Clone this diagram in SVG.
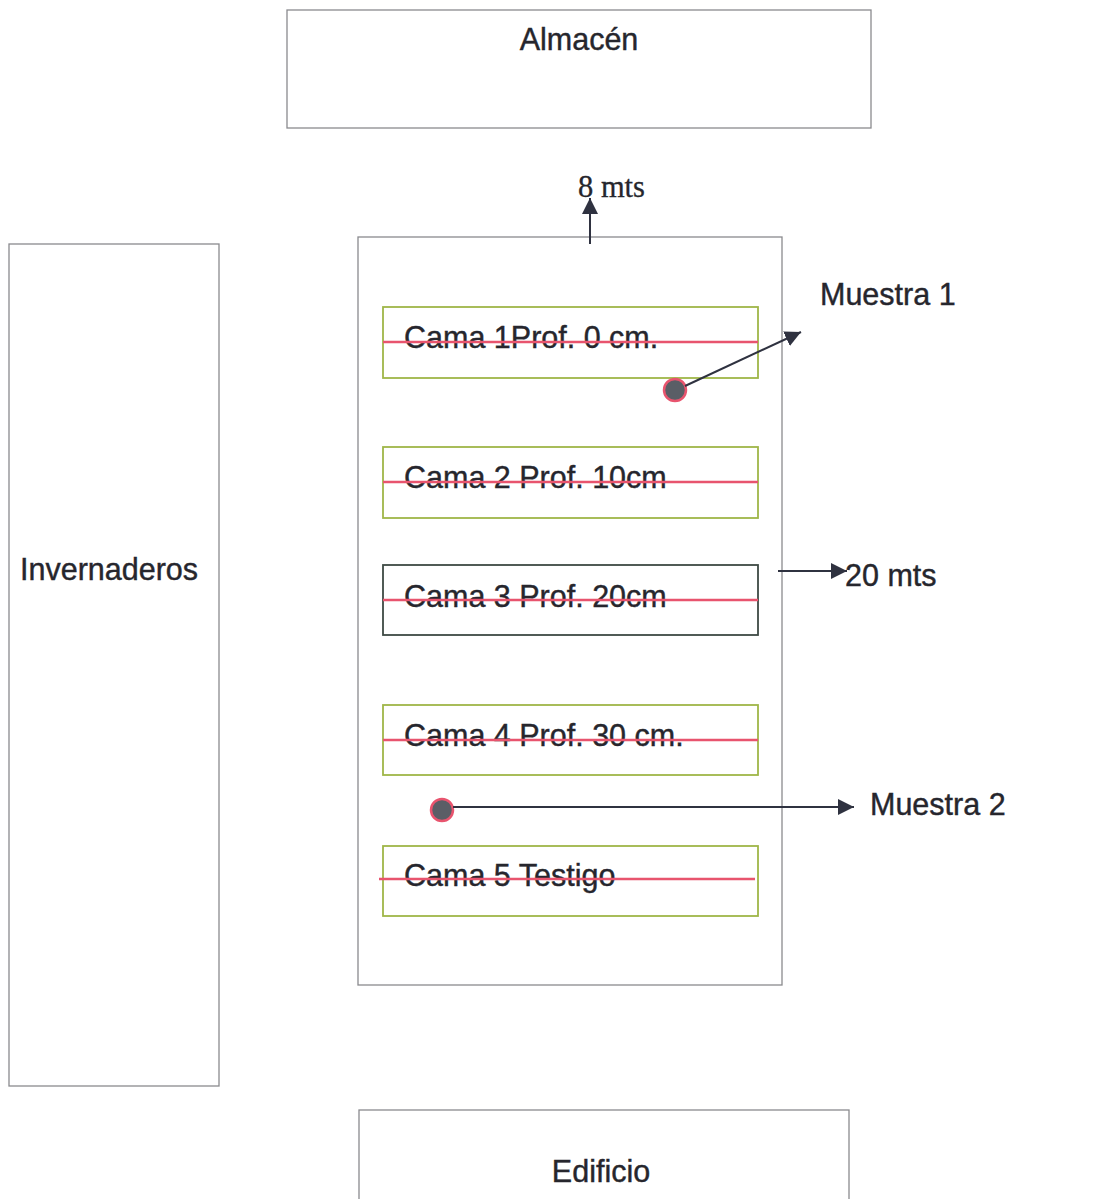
<svg xmlns="http://www.w3.org/2000/svg" width="1118" height="1199" viewBox="0 0 1118 1199">
  <style>
    .box { fill: #ffffff; stroke: #8a8a8e; stroke-width: 1.3; }
    .cama { fill: none; stroke: #9fb648; stroke-width: 1.8; }
    .cama3 { fill: none; stroke: #3e4a44; stroke-width: 1.8; }
    .strike { stroke: #e8546e; stroke-width: 2.4; }
    .lbl { font-family: "Liberation Sans", Arial, sans-serif; font-size: 30.5px; fill: #26262d; stroke: #26262d; stroke-width: 0.4; }
    .serif { font-family: "Liberation Serif", "Times New Roman", serif; font-size: 30.5px; fill: #26262d; stroke: #26262d; stroke-width: 0.3; }
    .conn { stroke: #2f3240; stroke-width: 2; fill: none; }
    .dot { fill: #5a5e66; stroke: #e8546e; stroke-width: 2.5; }
  </style>
  <defs>
    <marker id="ah" markerUnits="userSpaceOnUse" markerWidth="18" markerHeight="16" refX="16" refY="8" orient="auto">
      <path d="M0,0 L16,8 L0,16 Z" fill="#2f3240"/>
    </marker>
  </defs>
  <rect width="1118" height="1199" fill="#ffffff"/>

  <g id="almacen">
    <rect class="box" x="287" y="10" width="584" height="118"/>
    <text class="lbl" x="579" y="50" text-anchor="middle">Almacén</text>
  </g>

  <g id="invernaderos">
    <rect class="box" x="9" y="244" width="210" height="842"/>
    <text class="lbl" x="20" y="580">Invernaderos</text>
  </g>

  <g id="parcela">
    <rect class="box" x="358" y="237" width="424" height="748"/>
  </g>

  <g id="edificio">
    <rect class="box" x="359" y="1110" width="490" height="100"/>
    <text class="lbl" x="601" y="1182" text-anchor="middle">Edificio</text>
  </g>

  <g id="cama1">
    <rect class="cama" x="383" y="307" width="375" height="71"/>
    <text class="lbl" x="404" y="348">Cama 1Prof. 0 cm.</text>
    <line class="strike" x1="383" y1="342" x2="758" y2="342"/>
  </g>

  <g id="cama2">
    <rect class="cama" x="383" y="447" width="375" height="71"/>
    <text class="lbl" x="404" y="488">Cama 2 Prof. 10cm</text>
    <line class="strike" x1="383" y1="482" x2="758" y2="482"/>
  </g>

  <g id="cama3">
    <rect class="cama3" x="383" y="565" width="375" height="70"/>
    <text class="lbl" x="404" y="607">Cama 3 Prof. 20cm</text>
    <line class="strike" x1="383" y1="600" x2="758" y2="600"/>
  </g>

  <g id="cama4">
    <rect class="cama" x="383" y="705" width="375" height="70"/>
    <text class="lbl" x="404" y="746">Cama 4 Prof. 30 cm.</text>
    <line class="strike" x1="383" y1="740" x2="758" y2="740"/>
  </g>

  <g id="cama5">
    <rect class="cama" x="383" y="846" width="375" height="70"/>
    <text class="lbl" x="404" y="886">Cama 5 Testigo</text>
    <line class="strike" x1="379" y1="879" x2="755" y2="879"/>
  </g>

  <g id="muestra1">
    <circle class="dot" cx="675" cy="390" r="11"/>
    <text class="lbl" x="820" y="305">Muestra 1</text>
  </g>

  <g id="muestra2">
    <circle class="dot" cx="442" cy="810" r="11"/>
    <text class="lbl" x="870" y="815">Muestra 2</text>
  </g>

  <g id="labels">
    <text class="serif" x="578" y="197">8 mts</text>
    <text class="lbl" x="845" y="586">20 mts</text>
  </g>

  <g id="connectors">
    <line class="conn" x1="590" y1="244" x2="590" y2="198" marker-end="url(#ah)"/>
    <line class="conn" x1="685" y1="386" x2="801" y2="332" marker-end="url(#ah)"/>
    <line class="conn" x1="778" y1="571" x2="847" y2="571" marker-end="url(#ah)"/>
    <line class="conn" x1="453" y1="807" x2="854" y2="807" marker-end="url(#ah)"/>
  </g>
</svg>
